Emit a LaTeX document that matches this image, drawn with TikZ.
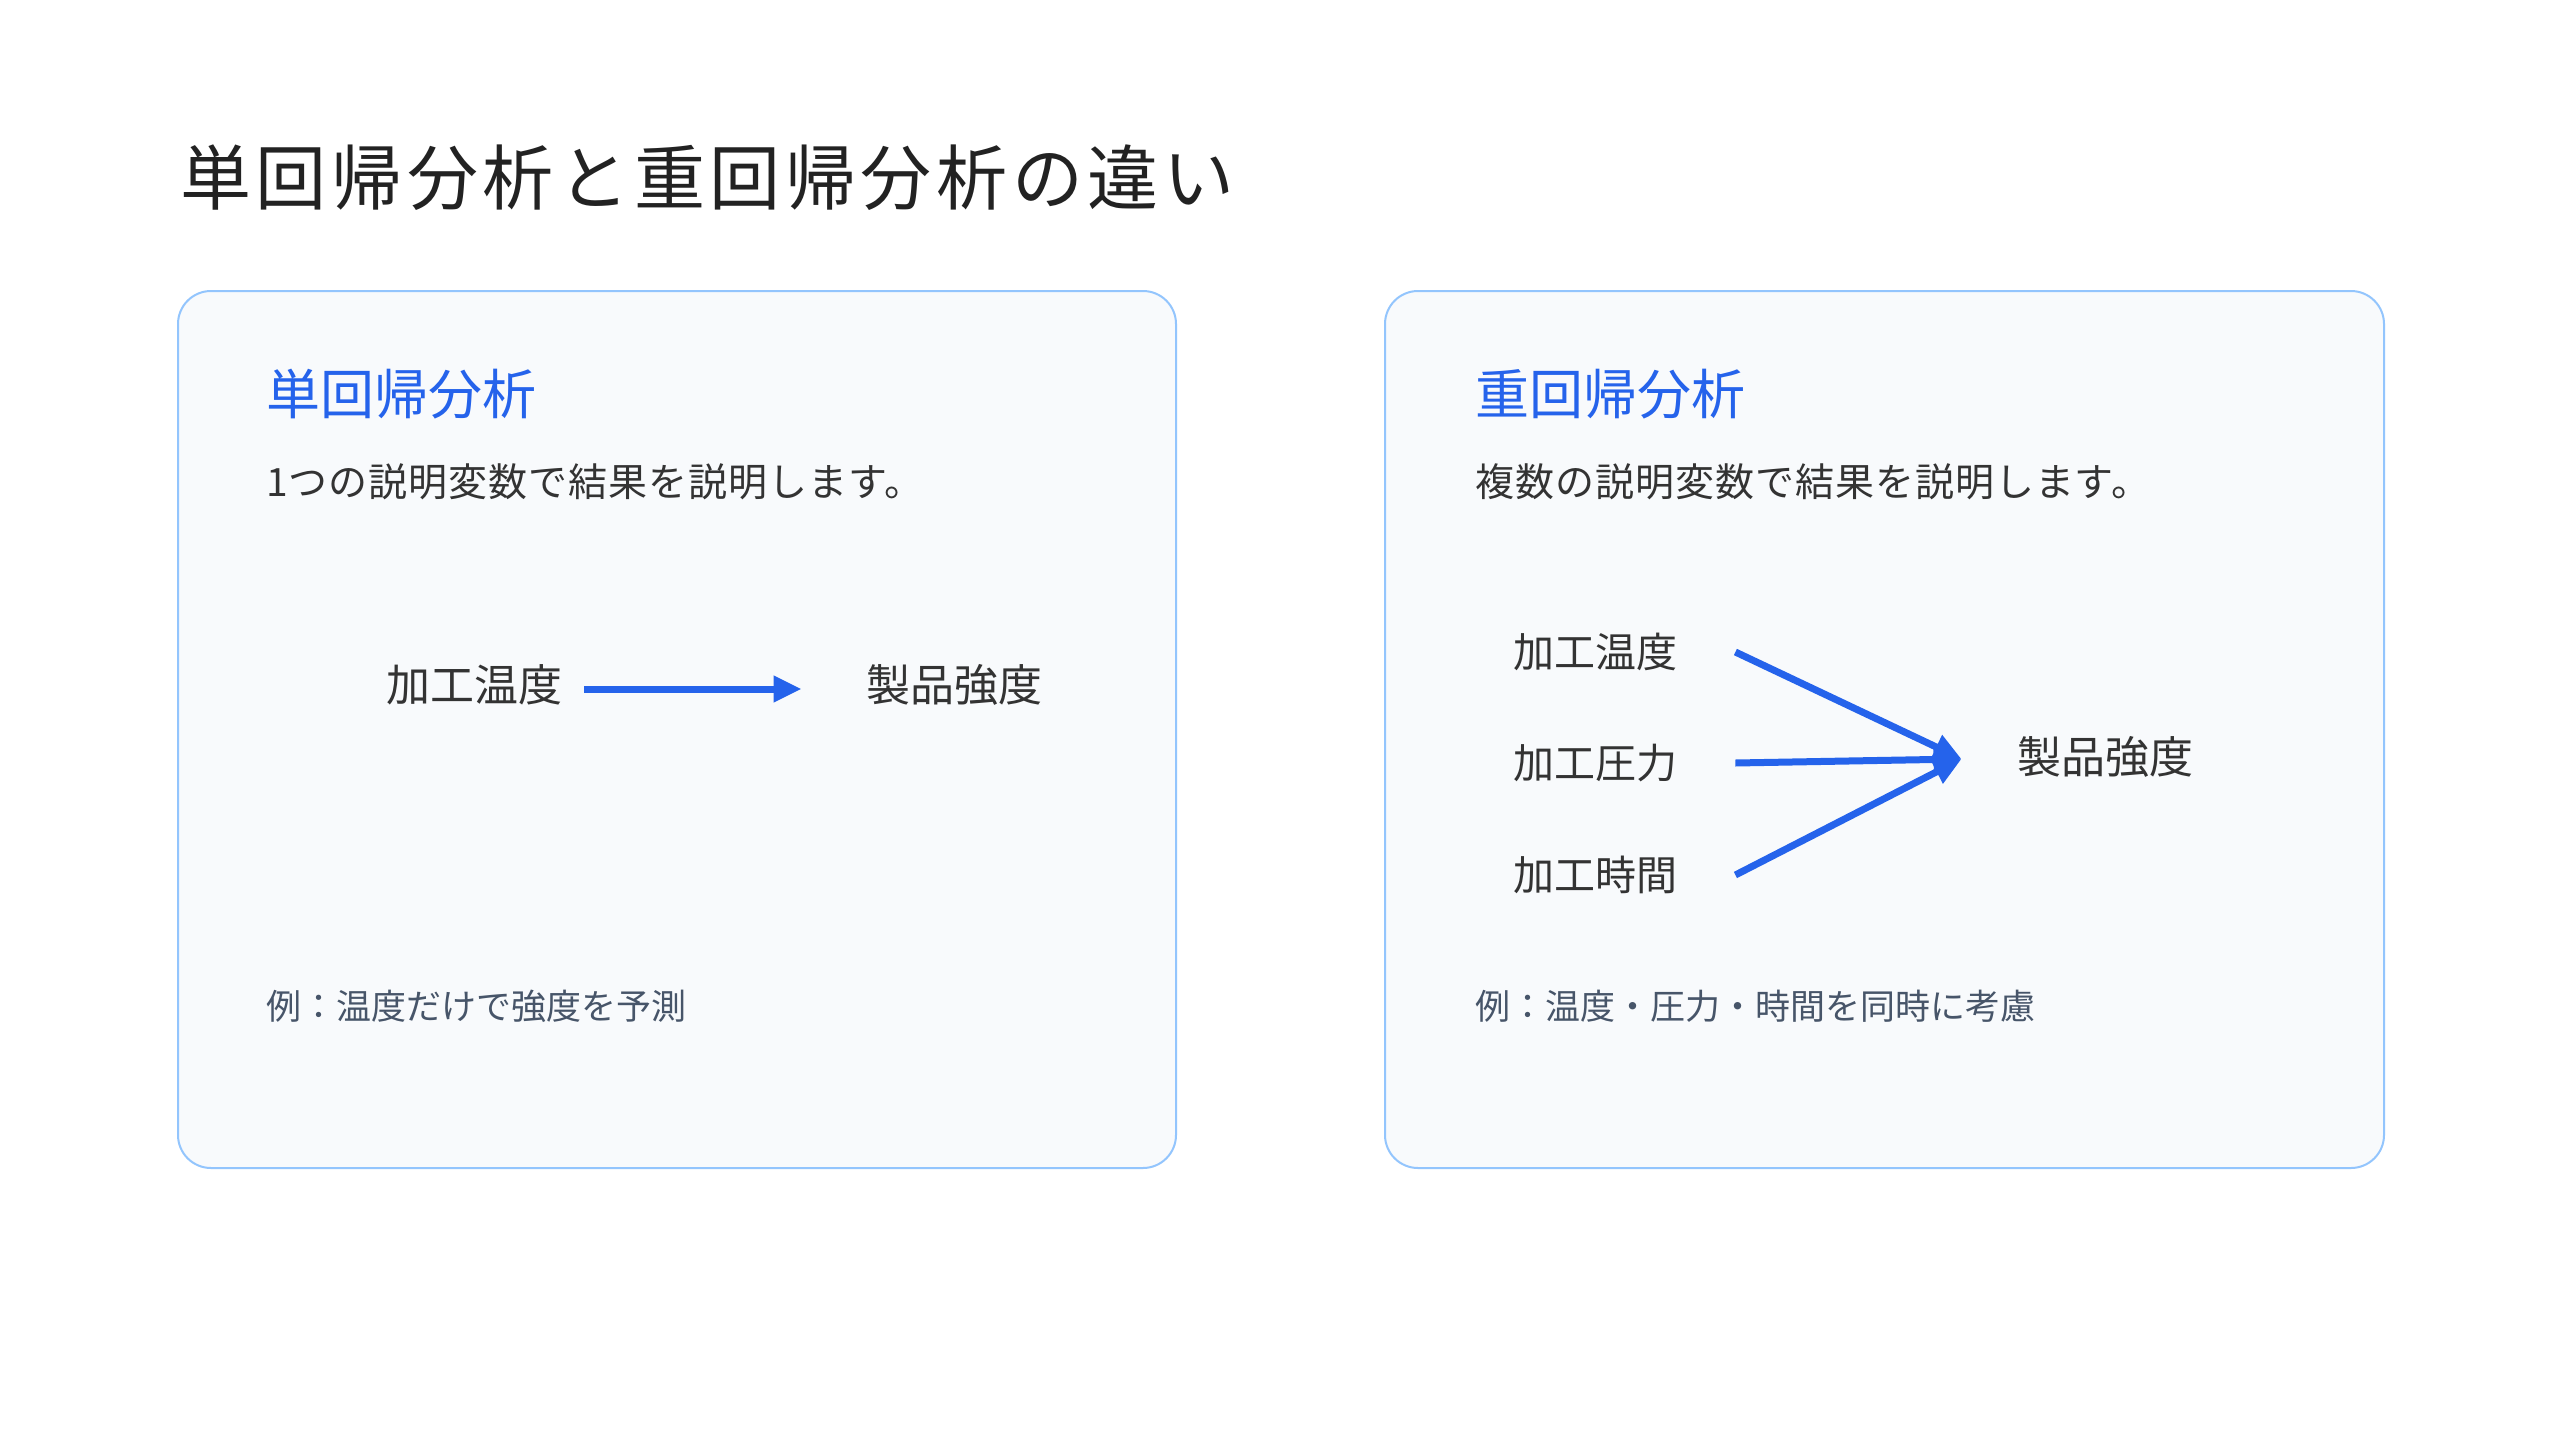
\documentclass[tikz,border=0pt]{standalone}
\usepackage{fontspec}
\setmainfont{Noto Sans CJK JP}
\usepackage{tikz}
\usetikzlibrary{arrows.meta}
\definecolor{TitleInk}{HTML}{222222}
\definecolor{BodyInk}{HTML}{333333}
\definecolor{NoteInk}{HTML}{475569}
\definecolor{HeadBlue}{HTML}{2563EB}
\definecolor{ArrowBlue}{HTML}{2563EB}
\definecolor{CardEdge}{HTML}{93C5FD}
\definecolor{CardFill}{HTML}{F8FAFC}

\begin{document}
\begin{tikzpicture}[x=0.5pt, y=-0.5pt,
      card/.style={draw=CardEdge, line width=1pt, fill=CardFill, rounded corners=16.5pt},
      head/.style={anchor=west, inner sep=0pt, text=HeadBlue, font=\fontsize{27}{32}\selectfont},
      lead/.style={anchor=west, inner sep=0pt, text=BodyInk, font=\fontsize{19.5}{24}\selectfont\addfontfeatures{LetterSpace=2.5}},
      note/.style={anchor=west, inner sep=0pt, text=NoteInk, font=\fontsize{17.5}{21}\selectfont},
      var/.style={inner ysep=0pt, text=BodyInk, font=\fontsize{22}{26}\selectfont},
      input/.style={var, font=\fontsize{20.5}{25}\selectfont},
      flow/.style={draw=ArrowBlue, line width=3.5pt, -{Triangle[length=14pt, width=12.5pt]}}]
    \useasboundingbox[fill=white] (0,0) rectangle (2560,1440);
    \node (title) [anchor=west, inner sep=0pt, text=TitleInk,
      font=\fontsize{35.5}{42}\selectfont\addfontfeatures{LetterSpace=6.5}]
      at (180,178) {単回帰分析と重回帰分析の違い};

    % simple regression
    \draw[card] (178,291) rectangle (1176,1168);
    \node (simpleHead) [head] at (266,394) {単回帰分析};
    \node (simpleLead) [lead] at (266,482) {1つの説明変数で結果を説明します。};
    \node (simpleTemp) [var, inner xsep=11pt] at (474,685) {加工温度};
    \node (simpleStrength) [var, inner xsep=32pt] at (954,685) {製品強度};
    \draw[flow] ([yshift=-2pt]simpleTemp.east) -- ([yshift=-2pt]simpleStrength.west);
    \node (simpleNote) [note] at (266,1006) {例：温度だけで強度を予測};

    % multiple regression
    \draw[card] (1385,291) rectangle (2384,1168);
    \node (multiHead) [head] at (1475,394) {重回帰分析};
    \node (multiLead) [lead] at (1475,482) {複数の説明変数で結果を説明します。};
    \node (multiTemp) [input, inner xsep=29pt] at (1595,652) {加工温度};
    \node (multiPress) [input, inner xsep=29pt] at (1595,763) {加工圧力};
    \node (multiTime) [input, inner xsep=29pt] at (1595,875) {加工時間};
    \node (multiStrength) [var, inner xsep=27.5pt] at (2105,757) {製品強度};
    \foreach \src in {multiTemp, multiPress, multiTime}
      \draw[flow] (\src.east) -- ([yshift=-1pt]multiStrength.west);
    \node (multiNote) [note] at (1475,1006) {例：温度・圧力・時間を同時に考慮};
  \end{tikzpicture}
\end{document}
